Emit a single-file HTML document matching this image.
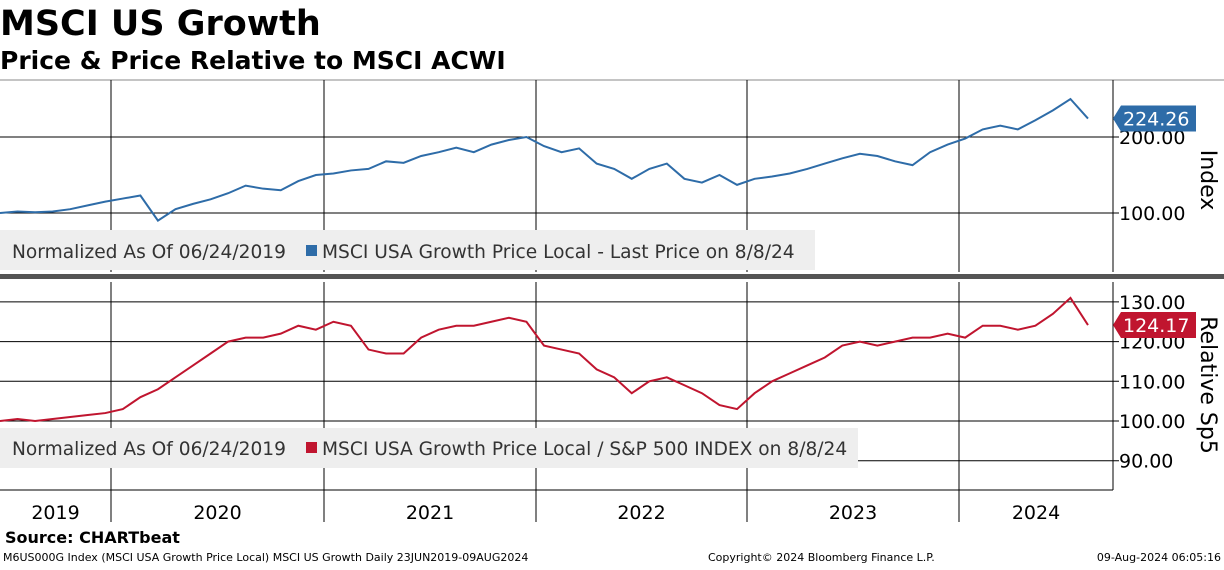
<!DOCTYPE html>
<html><head><meta charset="utf-8"><style>
body{margin:0;background:#fff;width:1224px;height:566px;overflow:hidden;font-family:"DejaVu Sans",sans-serif}
svg text{font-family:"DejaVu Sans",sans-serif}
</style></head><body>
<svg id="c" width="1224" height="566" xmlns="http://www.w3.org/2000/svg"></svg>
<script>
const years = ["2019","2020","2021","2022","2023","2024"];
const priceVals = [100,102,101,102,105,110,115,
119,123,90,105,112,118,126,136,132,130,142,150,
152,156,158,168,166,175,180,186,180,190,196,200,
188,180,185,165,158,145,158,165,145,140,150,137,
145,148,152,158,165,172,178,175,168,163,180,190,
198,210,215,210,222,235,250,224.26];
const relVals = [100,100.5,100,100.5,101,101.5,102,
103,106,108,111,114,117,120,121,121,122,124,123,
125,124,118,117,117,121,123,124,124,125,126,125,
119,118,117,113,111,107,110,111,109,107,104,103,
107,110,112,114,116,119,120,119,120,121,121,122,
121,124,124,123,124,127,131,124.17];
const priceTicks = [100,200];
const relTicks = [90,100,110,120,130];

const svg=document.getElementById('c');
const NS='http://www.w3.org/2000/svg';
function mk(t,a,p){const e=document.createElementNS(NS,t);for(const k in a)e.setAttribute(k,a[k]);(p||svg).appendChild(e);return e;}
const X0=0,X1=1088,R=1113;
const xs=i=>X0+(X1-X0)*i/(priceVals.length-1);
const yP=v=>213-(v-100)*0.76;
const yR=v=>421-(v-100)*3.97;
const yearX=[111,324,536,747,959];

let t=mk('text',{x:0,y:35,'font-size':35,'font-weight':'bold',fill:'#000'});t.textContent='MSCI US Growth';

t=mk('text',{x:0,y:69,'font-size':25,'font-weight':'bold',fill:'#000'});t.textContent='Price & Price Relative to MSCI ACWI';


mk('line',{x1:0,y1:80,x2:1224,y2:80,stroke:'#888','stroke-width':1});
mk('rect',{x:0,y:274,width:1224,height:5,fill:'#555'});
mk('line',{x1:R,y1:80,x2:R,y2:272,stroke:'#000'});
mk('line',{x1:R,y1:282,x2:R,y2:490,stroke:'#000'});
mk('line',{x1:0,y1:490,x2:R,y2:490,stroke:'#000'});
yearX.forEach(x=>{mk('line',{x1:x,y1:80,x2:x,y2:272,stroke:'#000','stroke-width':1});mk('line',{x1:x,y1:282,x2:x,y2:522,stroke:'#000','stroke-width':1});});
priceTicks.forEach(v=>{const y=yP(v);mk('line',{x1:0,y1:y,x2:R+6,y2:y,stroke:'#000'});
 const tx=mk('text',{x:1119,y:y+7,'font-size':19,fill:'#000'});tx.textContent=v.toFixed(2);
 });
relTicks.forEach(v=>{const y=yR(v);mk('line',{x1:0,y1:y,x2:R+6,y2:y,stroke:'#000'});
 const tx=mk('text',{x:1119,y:y+7,'font-size':19,fill:'#000'});tx.textContent=v.toFixed(2);
 });
t=mk('text',{transform:'translate(1201,180) rotate(90)','font-size':22,'text-anchor':'middle'});t.textContent='Index';

t=mk('text',{transform:'translate(1201,385) rotate(90)','font-size':22,'text-anchor':'middle'});t.textContent='Relative Sp5';


const bounds=[0].concat(yearX).concat([1113]);
years.forEach((y,i)=>{const tx=mk('text',{x:(bounds[i]+bounds[i+1])/2,y:519,'font-size':19,'text-anchor':'middle'});tx.textContent=y;
 });

mk('rect',{x:0,y:230,width:815,height:40,fill:'#eee'});
t=mk('text',{x:12,y:258,'font-size':18.6,fill:'#333'});t.textContent='Normalized As Of 06/24/2019';
mk('rect',{x:306,y:245,width:11,height:11,fill:'#2e6ca8'});
t=mk('text',{x:322,y:258,'font-size':18.6,fill:'#333'});t.textContent='MSCI USA Growth Price Local - Last Price on 8/8/24';

mk('rect',{x:0,y:428,width:858,height:40,fill:'#eee'});
t=mk('text',{x:12,y:455,'font-size':18.6,fill:'#333'});t.textContent='Normalized As Of 06/24/2019';
mk('rect',{x:306,y:442,width:11,height:11,fill:'#c0152f'});
t=mk('text',{x:322,y:455,'font-size':18.6,fill:'#333'});t.textContent='MSCI USA Growth Price Local / S&P 500 INDEX on 8/8/24';


let p=mk('path',{d:priceVals.map((v,i)=>(i?'L':'M')+xs(i)+','+yP(v)).join(''),fill:'none',stroke:'#2e6ca8','stroke-width':2});

p=mk('path',{d:relVals.map((v,i)=>(i?'L':'M')+xs(i)+','+yR(v)).join(''),fill:'none',stroke:'#c0152f','stroke-width':2});


function tag(v,y,col,name){const g=mk('g',{});
 mk('path',{d:`M${R},${y} L${R+8},${y-13} H1196 V${y+13} H${R+8} Z`,fill:col},g);
 const tx=mk('text',{x:1123,y:y+7,'font-size':19,fill:'#fff'},g);tx.textContent=v.toFixed(2);}
tag(priceVals[priceVals.length-1],yP(priceVals[priceVals.length-1]),'#2e6ca8','price-last-tag');
tag(relVals[relVals.length-1],yR(relVals[relVals.length-1]),'#c0152f','relative-last-tag');

t=mk('text',{x:5,y:543,'font-size':16,'font-weight':'bold'});t.textContent='Source: CHARTbeat';

t=mk('text',{x:3,y:561,'font-size':11});t.textContent='M6US000G Index (MSCI USA Growth Price Local) MSCI US Growth  Daily 23JUN2019-09AUG2024';
t=mk('text',{x:708,y:561,'font-size':11});t.textContent='Copyright© 2024 Bloomberg Finance L.P.';
t=mk('text',{x:1221,y:561,'font-size':11,'text-anchor':'end'});t.textContent='09-Aug-2024 06:05:16';
</script>
</body></html>
